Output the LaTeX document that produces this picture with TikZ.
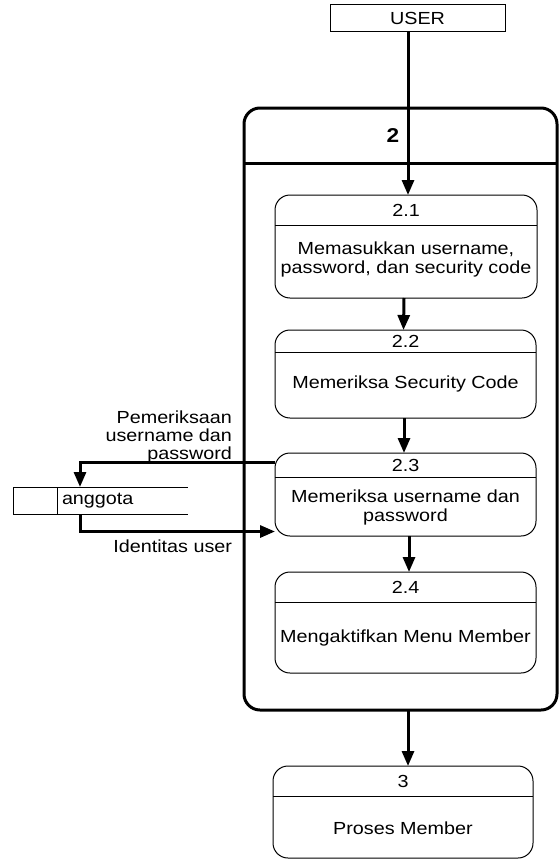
\documentclass[tikz,border=0pt]{standalone}
\usepackage{fontspec}
\setmainfont{Liberation Sans}[FakeStretch=1.13]
\usetikzlibrary{arrows.meta,calc}
\begin{document}
\begin{tikzpicture}[x=1pt,y=-1pt,
  every node/.style={font=\fontsize{17.5}{19}\selectfont, inner sep=0pt, outer sep=0pt},
  box/.style={draw, line width=1pt, minimum width=#1},
  proc/.style={draw, line width=1pt, rounded corners=15pt},
  bigproc/.style={draw, line width=3pt, rounded corners=16pt},
  flow/.style={line width=3pt, -{Triangle[length=15pt,width=12pt]}},
  divider/.style={line width=1pt},
  storeline/.style={line width=1pt}]
\useasboundingbox (0,0) rectangle (559,867);

% external entity
\node[box=175pt, minimum height=27pt] (user) at (417.5,18.5) {};
\node (usertxt) at (417.5,18.5) {USER};

% process 2 (container)
\node[bigproc, minimum width=313pt, minimum height=602pt] (big) at (400.5,409) {};
\draw[line width=3pt] (big.west |- 0,163) -- (big.east |- 0,163);
\node[font=\fontsize{20}{22}\selectfont\bfseries] (n2) at (393,136) {2};

% sub-processes
\node[proc, minimum width=262pt, minimum height=103pt] (p21) at (406,246.5) {};
\draw[divider] (p21.west |- 0,225) -- (p21.east |- 0,225);
\node (h21) at (406,210) {2.1};
\node[align=center] (b21) at (406,259) {Memasukkan username,\\password, dan security code};

\node[proc, minimum width=261pt, minimum height=88pt] (p22) at (405.5,374) {};
\draw[divider] (p22.west |- 0,352) -- (p22.east |- 0,352);
\node (h22) at (405.5,341) {2.2};
\node (b22) at (405.5,384) {Memeriksa Security Code};

\node[proc, minimum width=261pt, minimum height=83pt] (p23) at (405.5,494.5) {};
\draw[divider] (p23.west |- 0,477) -- (p23.east |- 0,477);
\node (h23) at (405.5,465) {2.3};
\node[align=center] (b23) at (405.5,507) {Memeriksa username dan\\password};

\node[proc, minimum width=261pt, minimum height=101pt] (p24) at (405.5,622.5) {};
\draw[divider] (p24.west |- 0,602) -- (p24.east |- 0,602);
\node (h24) at (405.5,587) {2.4};
\node (b24) at (405.5,638) {Mengaktifkan Menu Member};

% process 3
\node[proc, minimum width=260pt, minimum height=92pt] (p3) at (403,812) {};
\draw[divider] (p3.west |- 0,796) -- (p3.east |- 0,796);
\node (h3) at (403,781) {3};
\node (b3) at (403,828) {Proses Member};

% data store
\node[minimum width=175pt, minimum height=27pt] (store) at (100.5,500.5) {};
\draw[storeline] (store.north west) rectangle ([xshift=44pt]store.south west);
\draw[storeline] (store.north west) -- (store.north east);
\draw[storeline] (store.south west) -- (store.south east);
\node[anchor=west] (anggota) at (62,501) {anggota};
\coordinate (sin) at ([xshift=67pt]store.north west);
\coordinate (sout) at ([xshift=67pt]store.south west);

% flows
\draw[flow] ([xshift=-9.5pt]user.south) -- ([xshift=-9.5pt]user.south |- p21.north);
\draw[flow] ([xshift=-2pt]p21.south) -- ([xshift=-2pt]p22.north);
\draw[flow] ([xshift=-1.5pt]p22.south) -- ([xshift=-1.5pt]p23.north);
\draw[flow] ([xshift=3.5pt]p23.south) -- ([xshift=3.5pt]p24.north);
\draw[flow] ([xshift=7.5pt]big.south) -- ([xshift=7.5pt]big.south |- p3.north);
\draw[flow] ([yshift=-9pt]p23.north west) -| (sin);
\draw[flow] (sout) |- ([yshift=4.5pt]p23.south west);

% flow labels
\node[align=right, anchor=east, font=\fontsize{17.5}{18}\selectfont] (lbl1) at (232,437) {Pemeriksaan\\username dan\\password};
\node[anchor=east] (lbl2) at (232,546) {Identitas user};
\end{tikzpicture}
\end{document}
